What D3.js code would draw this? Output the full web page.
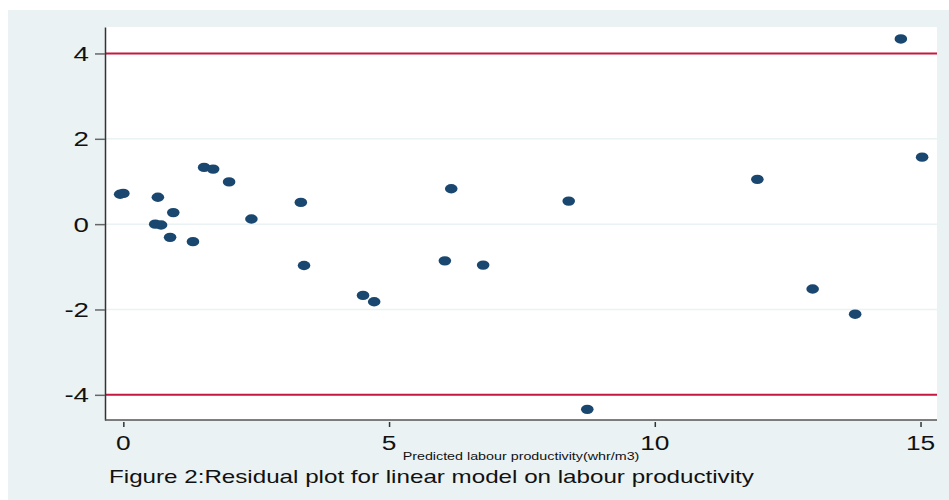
<!DOCTYPE html>
<html lang="en">
<head>
<meta charset="UTF-8">
<script src="https://d3js.org/d3.v7.min.js"></script>
<style>
  body { margin: 0; background: #fff; }
  text { font-family: "Liberation Sans", Arial, sans-serif; fill: #111; }
</style>
</head>
<body>
<div id="container"></div>
<script>
// fitted values and residuals
const predicted = [-0.06, 0.00, 0.65, 0.94, 0.60, 0.71, 0.88, 1.31, 1.52, 1.69, 1.99, 2.41, 3.34, 3.40,
                   4.51, 4.72, 6.05, 6.17, 6.77, 8.38, 8.73, 11.93, 12.97, 13.77, 14.63, 15.03];
const residuals = [0.70, 0.72, 0.63, 0.27, 0.00, -0.02, -0.31, -0.41, 1.33, 1.29, 0.99, 0.12, 0.51, -0.97,
                   -1.67, -1.82, -0.86, 0.83, -0.96, 0.54, -4.34, 1.05, -1.52, -2.11, 4.34, 1.57];
const xTicks = [0, 5, 10, 15];
const yTicks = [-4, -2, 0, 2, 4];
const gridValues = [-2, 0, 2];
const limitValues = [-4, 4];

const w = 949, h = 500;
const plot = { left: 105, right: 937, top: 27, bottom: 420 };
const stretch = 1.35;   // the Stata graph was pasted in stretched sideways

const svg = d3.select("#container").append("svg")
    .attr("width", w).attr("height", h)
    .style("display", "block");

// outer graph region
svg.append("rect")
    .attr("x", 8).attr("y", 10)
    .attr("width", w - 8).attr("height", h - 10)
    .attr("fill", "#eaf2f3");

svg.append("rect")
    .attr("x", plot.left).attr("y", plot.top)
    .attr("width", plot.right - plot.left).attr("height", plot.bottom - plot.top)
    .attr("fill", "#fff");

const x = d3.scaleLinear().domain([-0.345, 15.31]).range([plot.left, plot.right]);
const y = d3.scaleLinear().domain([-4.59, 4.62]).range([plot.bottom, plot.top]);

// grid lines
svg.selectAll(".grid").data(gridValues).enter().append("line")
    .attr("class", "grid")
    .attr("x1", plot.left).attr("x2", plot.right)
    .attr("y1", d => y(d)).attr("y2", d => y(d))
    .attr("stroke", "#eaf2f3").attr("stroke-width", 1.5);

// reference lines at +-4
svg.selectAll(".limit").data(limitValues).enter().append("line")
    .attr("class", "limit")
    .attr("x1", plot.left).attr("x2", plot.right)
    .attr("y1", d => y(d)).attr("y2", d => y(d))
    .attr("stroke", "#c5173f").attr("stroke-width", 2);

// y axis
const yAxis = d3.axisLeft(y).tickValues(yTicks).tickSize(10).tickSizeOuter(0).tickFormat(d3.format("d"));
const gy = svg.append("g")
    .attr("transform", "translate(" + plot.left + ",0)")
    .call(yAxis);
gy.select(".domain").attr("stroke", "#333").attr("stroke-width", 1.5);
gy.selectAll(".tick line").attr("stroke", "#666").attr("stroke-width", 1.5);
gy.selectAll(".tick text").remove();
svg.selectAll(".ylab").data(yTicks).enter().append("text")
    .attr("class", "ylab")
    .attr("transform", d => "translate(89," + y(d) + ") scale(" + stretch + ",1)")
    .attr("dy", "0.36em")
    .attr("text-anchor", "end")
    .style("font-size", "20.5px")
    .text(d => d);

// x axis
svg.append("line")
    .attr("x1", plot.left).attr("x2", plot.right)
    .attr("y1", plot.bottom).attr("y2", plot.bottom)
    .attr("stroke", "#555").attr("stroke-width", 1.5);
const xAxis = d3.axisBottom(x).tickValues(xTicks).tickSize(5).tickSizeOuter(0);
const gx = svg.append("g")
    .attr("transform", "translate(0," + (plot.bottom + 2) + ")")
    .call(xAxis);
gx.select(".domain").remove();
gx.selectAll(".tick line").attr("stroke", "#333").attr("stroke-width", 1.5);
gx.selectAll(".tick text").remove();
svg.selectAll(".xlab").data(xTicks).enter().append("text")
    .attr("class", "xlab")
    .attr("transform", d => "translate(" + x(d) + ",450) scale(" + stretch + ",1)")
    .attr("text-anchor", "middle")
    .style("font-size", "19.5px")
    .text(d => d);

svg.append("text")
    .attr("transform", "translate(" + ((plot.left + plot.right) / 2) + ",460) scale(" + stretch + ",1)")
    .attr("text-anchor", "middle")
    .style("font-size", "10.6px")
    .text("Predicted labour productivity(whr/m3)");

// residual points
svg.selectAll(".pt").data(predicted).enter().append("ellipse")
    .attr("class", "pt")
    .attr("cx", d => x(d))
    .attr("cy", (d, i) => y(residuals[i]))
    .attr("rx", 6.3).attr("ry", 4.7)
    .attr("fill", "#1a476f");

// caption, stretched like the rest of the picture
svg.append("text")
    .attr("transform", "translate(109,483) scale(1.3,1)")
    .style("font-size", "18.6px")
    .text("Figure 2:Residual plot for linear model on labour productivity");
</script>
</body>
</html>
